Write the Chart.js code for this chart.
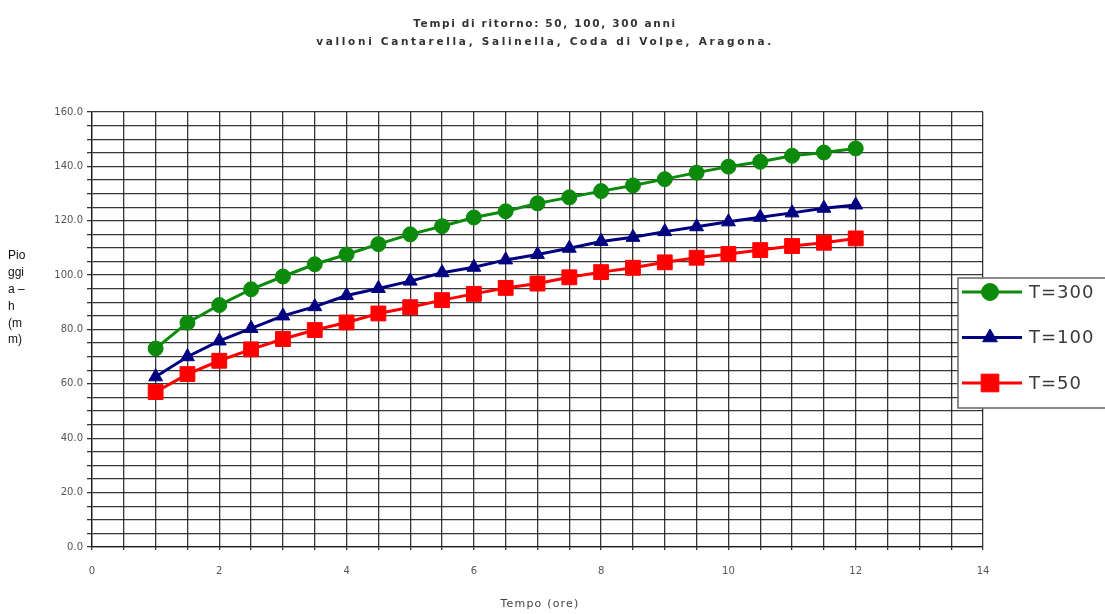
<!DOCTYPE html>
<html>
<head>
<meta charset="utf-8">
<script src="https://cdn.jsdelivr.net/npm/chart.js@4/dist/chart.umd.min.js"></script>
<style>
  html, body { margin: 0; padding: 0; background: #ffffff; }
  #wrap { position: relative; width: 1105px; height: 614px; }
</style>
</head>
<body>
<div id="wrap"><canvas id="c" width="1105" height="614"></canvas></div>
<script>
// Durata della pioggia (ore)
const hours = [1, 1.5, 2, 2.5, 3, 3.5, 4, 4.5, 5, 5.5, 6, 6.5, 7, 7.5, 8, 8.5, 9, 9.5, 10, 10.5, 11, 11.5, 12];

// Altezza di pioggia h (mm) per tempo di ritorno
const rainT300 = [73.0, 82.5, 89.0, 94.8, 99.5, 104.0, 107.6, 111.4, 115.0, 118.0, 121.2, 123.5, 126.4, 128.6, 130.9, 133.0, 135.3, 137.7, 139.9, 141.7, 143.9, 145.1, 146.6];
const rainT100 = [62.6, 70.0, 75.8, 80.4, 85.0, 88.4, 92.5, 95.1, 97.8, 100.9, 102.9, 105.6, 107.6, 109.9, 112.4, 113.9, 116.0, 117.8, 119.6, 121.3, 122.9, 124.6, 125.8];
const rainT50  = [57.0, 63.6, 68.5, 72.7, 76.5, 79.8, 82.6, 85.9, 88.2, 90.8, 93.1, 95.3, 96.9, 99.2, 101.1, 102.7, 104.7, 106.4, 107.8, 109.2, 110.7, 111.9, 113.5];

const seriesNames = ['T=300', 'T=100', 'T=50'];

// Etichette degli assi (valori ogni 20 mm e ogni 2 ore)
const yTickLabels = [0, 20, 40, 60, 80, 100, 120, 140, 160];
const xTickLabels = [0, 2, 4, 6, 8, 10, 12, 14];

const titleLines = ['Tempi di ritorno: 50, 100, 300 anni', 'valloni Cantarella, Salinella, Coda di Volpe, Aragona.'];
const yTitleLines = ['Pio', 'ggi', 'a \u2013', 'h', '(m', 'm)'];
const xTitle = 'Tempo (ore)';

const toPoints = vals => hours.map((h, i) => ({ x: h, y: vals[i] }));

const GRID = 'rgba(20,20,20,0.85)';
const TICK_FONT = { size: 10, family: '"DejaVu Sans", sans-serif' };

// Titolo su due righe, spaziato, e titoli degli assi
const titlePlugin = {
  id: 'spacedTitle',
  afterDraw(chart) {
    const ctx = chart.ctx;
    const widths = [262, 455];
    const ys = [24, 42];
    ctx.save();
    ctx.fillStyle = '#333';
    ctx.font = 'bold 10.5px "DejaVu Sans", sans-serif';
    ctx.textBaseline = 'middle';
    ctx.textAlign = 'left';
    titleLines.forEach((line, i) => {
      ctx.letterSpacing = '0px';
      const w0 = ctx.measureText(line).width;
      const sp = Math.max(0.6, (widths[i] - w0) / (line.length - 1));
      ctx.letterSpacing = sp + 'px';
      const w1 = ctx.measureText(line).width;
      ctx.fillText(line, 545 - w1 / 2, ys[i]);
    });
    ctx.letterSpacing = '0px';
    // titolo asse Y su più righe
    ctx.font = '12px "Liberation Sans", Arial, sans-serif';
    ctx.fillStyle = '#111';
    yTitleLines.forEach((line, i) => {
      ctx.fillText(line, 8, 256 + i * 16.8);
    });
    // titolo asse X
    ctx.font = '11px "DejaVu Sans", sans-serif';
    ctx.fillStyle = '#444';
    ctx.letterSpacing = '1.2px';
    ctx.textAlign = 'center';
    ctx.fillText(xTitle, 540, 604);
    ctx.restore();
  }
};

// Legenda a destra, sopra la griglia
const legendPlugin = {
  id: 'boxLegend',
  afterDraw(chart) {
    const ctx = chart.ctx;
    const left = 958, top = 278, bottom = 408;
    ctx.save();
    ctx.fillStyle = '#ffffff';
    ctx.fillRect(left, top, 1105 - left + 5, bottom - top);
    ctx.strokeStyle = '#666';
    ctx.lineWidth = 1.5;
    ctx.strokeRect(left, top, 1105 - left + 5, bottom - top);
    const sizes = [8.5, 8.5, 12.5];
    chart.data.datasets.forEach((ds, i) => {
      const y = 292 + i * 45.5;
      ctx.strokeStyle = ds.borderColor;
      ctx.lineWidth = 3;
      ctx.beginPath();
      ctx.moveTo(962, y);
      ctx.lineTo(1022, y);
      ctx.stroke();
      ctx.fillStyle = ds.backgroundColor;
      ctx.strokeStyle = ds.borderColor;
      ctx.lineWidth = 1;
      Chart.helpers.drawPoint(ctx, { pointStyle: ds.pointStyle, rotation: 0, radius: sizes[i], borderWidth: 1 }, 990, y);
      ctx.fillStyle = '#3a3a3a';
      ctx.font = '18px "DejaVu Sans", sans-serif';
      ctx.letterSpacing = '1px';
      ctx.textBaseline = 'middle';
      ctx.textAlign = 'left';
      ctx.fillText(ds.label, 1029, y + 1);
      ctx.letterSpacing = '0px';
    });
    ctx.restore();
  }
};

const palette = ['#0b8a0b', '#000080', '#ff0000'];
const styles = ['circle', 'triangle', 'rect'];
const radii = [7.5, 8, 10.5];
const seriesValues = [rainT300, rainT100, rainT50];

new Chart(document.getElementById('c'), {
  type: 'line',
  data: {
    datasets: seriesValues.map((vals, i) => ({
      label: seriesNames[i],
      data: toPoints(vals),
      borderColor: palette[i],
      backgroundColor: palette[i],
      borderWidth: 3,
      pointStyle: styles[i],
      pointRadius: radii[i],
      pointBorderWidth: 1,
      pointBackgroundColor: palette[i],
      pointBorderColor: palette[i],
      tension: 0,
      fill: false
    }))
  },
  options: {
    responsive: false,
    animation: false,
    devicePixelRatio: 1,
    layout: { padding: { top: 112, right: 122, left: 0, bottom: 0 } },
    plugins: {
      legend: { display: false },
      title: { display: false },
      tooltip: { enabled: false }
    },
    scales: {
      x: {
        type: 'linear',
        min: 0,
        max: 14,
        afterFit(s) { s.height = 67; },
        afterBuildTicks(s) {
          s.ticks = [];
          for (let v = 0; v <= 14; v += 0.5) s.ticks.push({ value: v });
        },
        ticks: {
          autoSkip: false,
          maxRotation: 0,
          padding: 15,
          color: '#555',
          font: TICK_FONT,
          callback: v => (xTickLabels.includes(v) ? String(v) : '')
        },
        grid: { color: GRID, lineWidth: 1.3, tickLength: 3 },
        border: { color: GRID, width: 1.3 }
      },
      y: {
        min: 0,
        max: 160,
        afterFit(s) { s.width = 92; },
        afterBuildTicks(s) {
          s.ticks = [];
          for (let v = 0; v <= 160; v += 5) s.ticks.push({ value: v });
        },
        ticks: {
          autoSkip: false,
          padding: 4,
          color: '#555',
          font: TICK_FONT,
          callback: v => (yTickLabels.includes(v) ? v.toFixed(1) : '')
        },
        grid: { color: GRID, lineWidth: 1.3, tickLength: 5 },
        border: { color: GRID, width: 1.3 }
      }
    }
  },
  plugins: [titlePlugin, legendPlugin]
});
</script>
</body>
</html>
